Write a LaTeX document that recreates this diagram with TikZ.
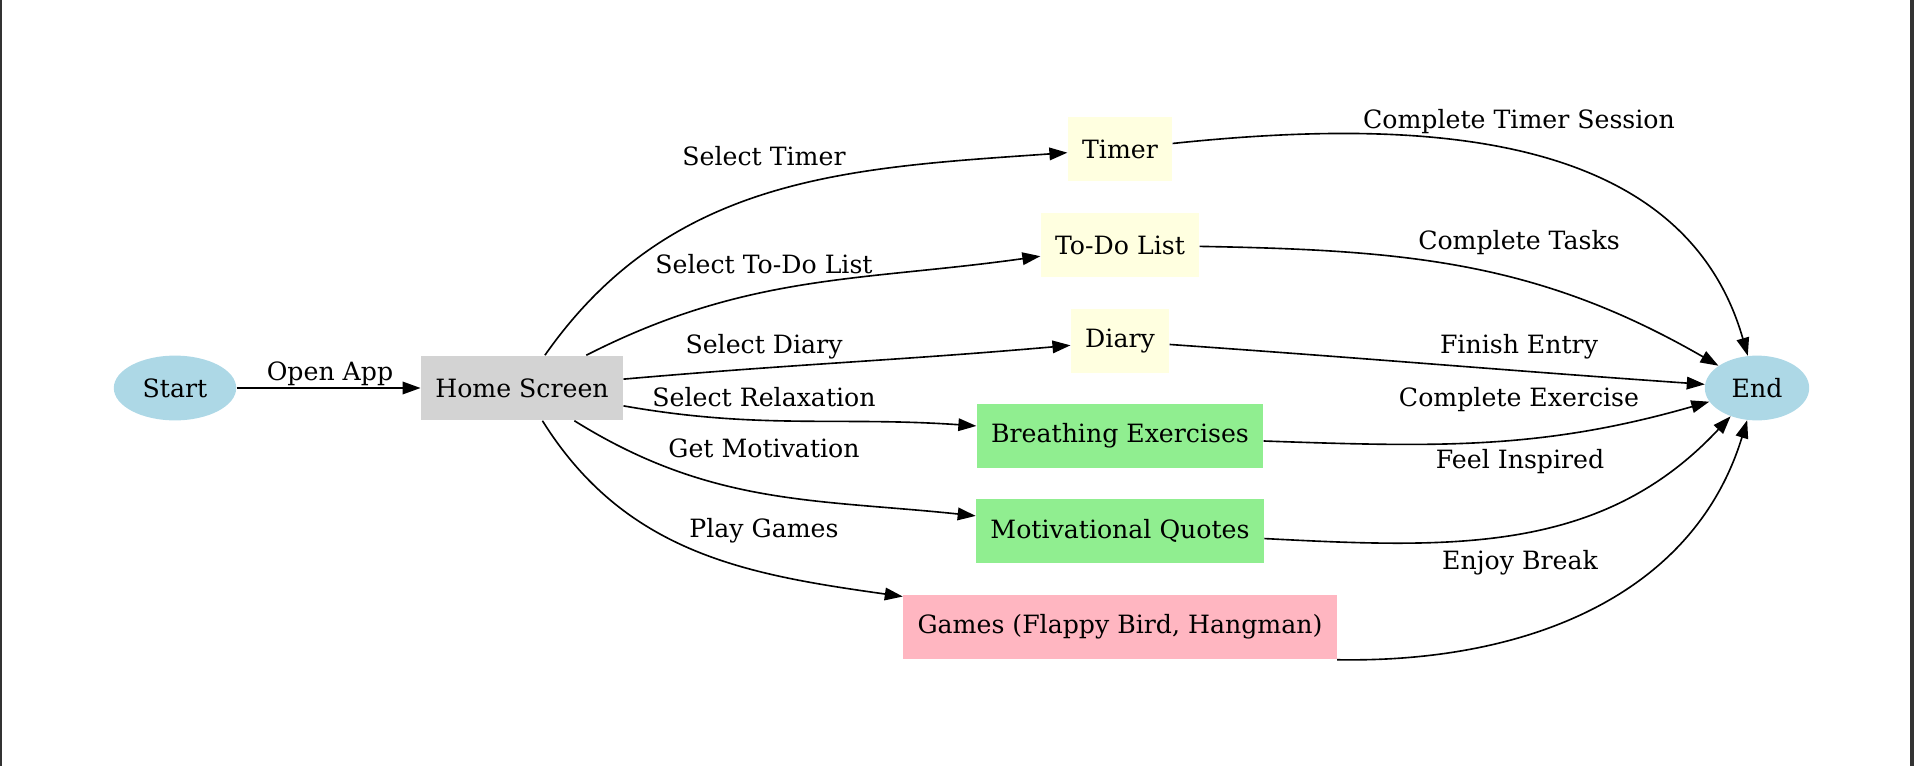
\documentclass[tikz,border=0pt]{standalone}
\usepackage{fontspec}
\setmainfont{DejaVu Serif}
\usepackage{tikz}
\usetikzlibrary{arrows.meta,shapes.geometric,positioning}
\definecolor{lblue}{RGB}{173,216,230}
\definecolor{lgray}{RGB}{211,211,211}
\definecolor{lyellow}{RGB}{255,255,224}
\definecolor{lgreen}{RGB}{144,238,144}
\definecolor{lpink}{RGB}{255,182,193}
\definecolor{frame}{RGB}{51,51,51}
\tikzset{
    %Define standard arrow tip
    >={Triangle[length=10pt,width=7pt]},
    %Define style for terminals
    term/.style={
           ellipse,
           fill=lblue,
           minimum width=68pt,
           minimum height=36pt,
           inner sep=0pt,
           font=\fontsize{14}{16}\selectfont},
    %Define style for boxes
    screen/.style={
           rectangle,
           minimum height=36pt,
           inner xsep=8pt,
           font=\fontsize{14}{16}\selectfont},
    tool/.style={screen, fill=lyellow},
    relax/.style={screen, fill=lgreen},
    play/.style={screen, fill=lpink},
    % Define label style
    lbl/.style={
           inner sep=0pt,
           font=\fontsize{14}{16}\selectfont},
    % Define arrow style
    pil/.style={
           ->,
           line width=0.9pt}
}
\begin{document}
\begin{tikzpicture}[x=0.5556pt,y=-0.5556pt]
\useasboundingbox (0,0) rectangle (1914,766);
\fill[frame] (0,0) rectangle (1.5,766);
\fill[frame] (1910,0) rectangle (1914,766);

 %nodes
\node[term] (start) at (175,388) {Start};
\node[screen, fill=lgray] (home) at (522,388) {Home Screen};
\node[tool] (timer) at (1120,149) {Timer};
\node[tool] (todo) at (1120,245) {To-Do List};
\node[tool] (diary) at (1120,341) {Diary};
\node[relax] (breath) at (1120,436) {Breathing Exercises};
\node[relax] (motiv) at (1120,531) {Motivational Quotes};
\node[play] (games) at (1120,627) {Games (Flappy Bird, Hangman)};
\node[term, minimum width=58pt] (end) at (1757,388) {End};

 %edges
\path[pil]
    (start) edge (home)
    (home) edge[out=55,in=184] (timer)
        edge[out=27,in=188] (todo)
        edge[out=5,in=185] (diary)
        edge[out=-10,in=176] (breath)
        edge[out=-32,in=174] (motiv)
        edge[out=-58,in=172] (games)
    (timer) edge[out=6,in=106] (end)
    (todo) edge[out=-1,in=150] (end)
    (diary) edge[out=-4,in=176] (end)
    (breath) edge[out=-2,in=196] (end)
    (motiv) edge[out=-3,in=227] (end)
    (games.south east) edge[out=-1,in=253] (end);

 %labels
\node[lbl] (lopen) at (330,374) {Open App};
\node[lbl] (ltimer) at (764,156) {Select Timer};
\node[lbl] (ltodo) at (764,264) {Select To-Do List};
\node[lbl] (ldiary) at (764,347) {Select Diary};
\node[lbl] (lrelax) at (764,397) {Select Relaxation};
\node[lbl] (lmotiv) at (764,448) {Get Motivation};
\node[lbl] (lgames) at (764,531) {Play Games};
\node[lbl] (lsession) at (1519,122) {Complete Timer Session};
\node[lbl] (ltasks) at (1519,243) {Complete Tasks};
\node[lbl] (lentry) at (1519,347) {Finish Entry};
\node[lbl] (lexercise) at (1519,400) {Complete Exercise};
\node[lbl] (linspired) at (1520,462) {Feel Inspired};
\node[lbl] (lbreak) at (1520,563) {Enjoy Break};
\end{tikzpicture}
\end{document}
